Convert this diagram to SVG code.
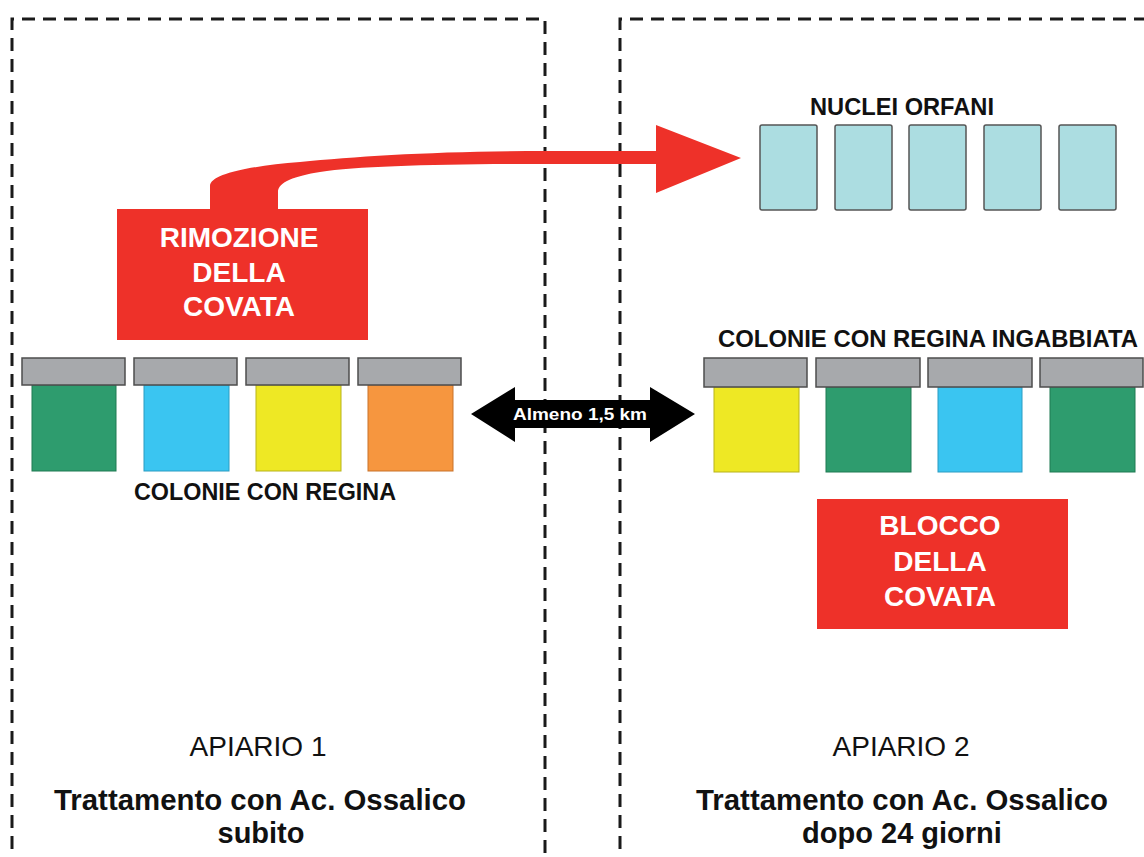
<svg xmlns="http://www.w3.org/2000/svg" width="1144" height="857" viewBox="0 0 1144 857">
<style>
.frame{fill:none;stroke:#1a1a1a;stroke-width:3;stroke-dasharray:13 8}
.lid{fill:#a7a9ac;stroke:#4d4d4d;stroke-width:1.5}
.nuc{fill:#acdde1;stroke:#555;stroke-width:1.5}
.red{fill:#ee3129}
.wt{font-family:"Liberation Sans",Arial,sans-serif;font-weight:bold;fill:#fff;font-size:28px;text-anchor:middle}
.bt{font-family:"Liberation Sans",Arial,sans-serif;font-weight:bold;fill:#111;font-size:23px;text-anchor:middle}
.rt{font-family:"Liberation Sans",Arial,sans-serif;fill:#111;font-size:28px;text-anchor:middle}
.bb{font-family:"Liberation Sans",Arial,sans-serif;font-weight:bold;fill:#111;font-size:29px;text-anchor:middle}
.g{fill:#2e9c6e;stroke:#1f7a52;stroke-width:1}
.b{fill:#3ac5f1;stroke:#2a9cc2;stroke-width:1}
.y{fill:#eee824;stroke:#b8b31a;stroke-width:1}
.o{fill:#f6963f;stroke:#c9722a;stroke-width:1}
</style>
<rect width="1144" height="857" fill="#fff"/>
<g id="apiario1">
<path class="frame" d="M12,870 L12,19 L545,19 L545,870"/>
</g>
<g id="apiario2">
<path class="frame" d="M620,870 L620,19 L1160,19"/>
</g>
<g id="connectors">
<path class="red" d="M210,209 L210,186 C210,174 250,166 300,162 C360,156 440,151 547,151 L656,151 L656,125 L741,158 L656,193 L656,164 L547,164 C440,164 360,166 320,172 C295,176 278,182 278,192 L278,209 Z"/>
<path d="M471,414 L515,387 L515,400 L650,400 L650,387 L695,414 L650,442 L650,428 L515,428 L515,442 Z" fill="#000"/>
<text x="580" y="420" font-family="'Liberation Sans',Arial,sans-serif" font-weight="bold" font-size="17" fill="#fff" text-anchor="middle" textLength="134" lengthAdjust="spacingAndGlyphs">Almeno 1,5 km</text>
</g>
<g id="rimozione">
<rect class="red" x="117" y="209" width="251" height="131"/>
<text class="wt" x="239" y="247">RIMOZIONE</text>
<text class="wt" x="239" y="282">DELLA</text>
<text class="wt" x="239" y="316">COVATA</text>
</g>
<g id="colonie1">
<rect class="g" x="32" y="385" width="84" height="86"/>
<rect class="lid" x="22" y="358" width="103" height="27"/>
<rect class="b" x="144" y="385" width="85" height="86"/>
<rect class="lid" x="134" y="358" width="103" height="27"/>
<rect class="y" x="256" y="385" width="85" height="86"/>
<rect class="lid" x="246" y="358" width="103" height="27"/>
<rect class="o" x="368" y="385" width="85" height="86"/>
<rect class="lid" x="358" y="358" width="103" height="27"/>
<text class="bt" x="265" y="500" textLength="262" lengthAdjust="spacingAndGlyphs">COLONIE CON REGINA</text>
</g>
<g id="nuclei">
<text class="bt" x="902" y="115" textLength="184" lengthAdjust="spacingAndGlyphs">NUCLEI ORFANI</text>
<rect class="nuc" x="760" y="125" width="57" height="85" rx="2"/>
<rect class="nuc" x="835" y="125" width="57" height="85" rx="2"/>
<rect class="nuc" x="909" y="125" width="57" height="85" rx="2"/>
<rect class="nuc" x="984" y="125" width="57" height="85" rx="2"/>
<rect class="nuc" x="1059" y="125" width="57" height="85" rx="2"/>
</g>
<g id="colonie2">
<text class="bt" x="928" y="347" textLength="420" lengthAdjust="spacingAndGlyphs">COLONIE CON REGINA INGABBIATA</text>
<rect class="y" x="714" y="387" width="85" height="85"/>
<rect class="lid" x="704" y="358" width="103" height="29"/>
<rect class="g" x="826" y="387" width="85" height="85"/>
<rect class="lid" x="816" y="358" width="104" height="29"/>
<rect class="b" x="938" y="387" width="84" height="85"/>
<rect class="lid" x="928" y="358" width="104" height="29"/>
<rect class="g" x="1050" y="387" width="85" height="85"/>
<rect class="lid" x="1040" y="358" width="103" height="29"/>
</g>
<g id="blocco">
<rect class="red" x="817" y="499" width="251" height="130"/>
<text class="wt" x="940" y="535">BLOCCO</text>
<text class="wt" x="940" y="571">DELLA</text>
<text class="wt" x="940" y="606">COVATA</text>
</g>
<g id="label1">
<text class="rt" x="258" y="756">APIARIO 1</text>
<text class="bb" x="260" y="810" textLength="412" lengthAdjust="spacingAndGlyphs">Trattamento con Ac. Ossalico</text>
<text class="bb" x="261" y="843">subito</text>
</g>
<g id="label2">
<text class="rt" x="901" y="756">APIARIO 2</text>
<text class="bb" x="902" y="810" textLength="412" lengthAdjust="spacingAndGlyphs">Trattamento con Ac. Ossalico</text>
<text class="bb" x="902" y="843">dopo 24 giorni</text>
</g>
</svg>
